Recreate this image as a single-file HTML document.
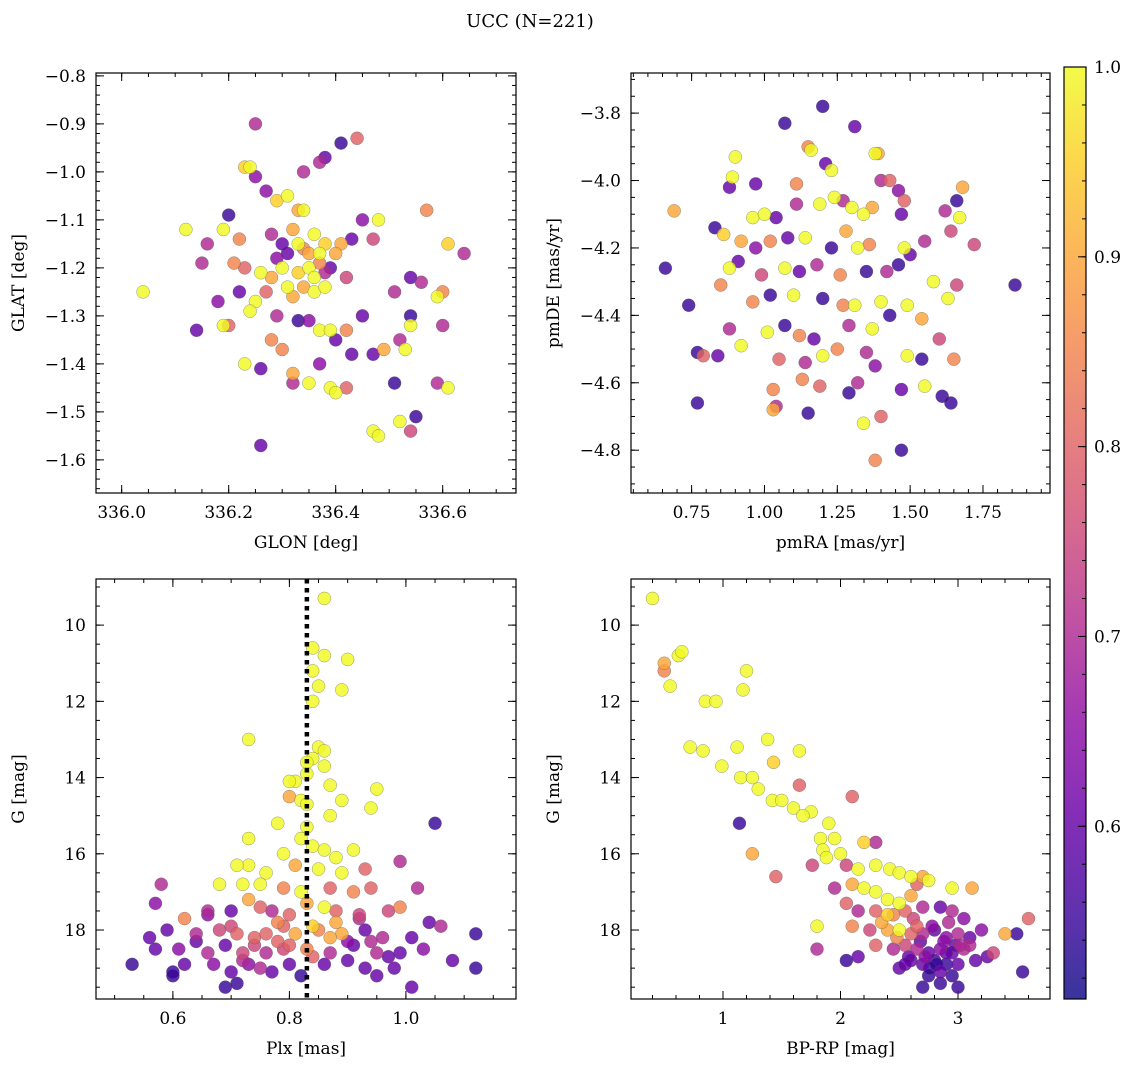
<!DOCTYPE html>
<html><head><meta charset="utf-8"><style>
html,body{margin:0;padding:0;background:#fff;}
svg{display:block;font-family:"DejaVu Serif","Liberation Serif",serif;}
</style></head><body>
<svg id="chart" width="1136" height="1067" viewBox="0 0 1136 1067" xmlns="http://www.w3.org/2000/svg">
<text x="530" y="27" font-size="18" text-anchor="middle">UCC (N=221)</text>
</svg>
<script>
// Panel 1: GLON / GLAT / probability
const p1Lon=[336.25,336.44,336.41,336.23,336.24,336.25,336.37,336.38,336.34,336.27,336.31,336.29,336.33,336.34,336.20,336.12,336.19,336.16,336.22,336.28,336.32,336.36,336.38,336.41,336.43,336.45,336.48,336.47,336.57,336.61,336.64,336.15,336.21,336.23,336.26,336.28,336.30,336.33,336.35,336.37,336.39,336.42,336.31,336.34,336.36,336.38,336.27,336.04,336.22,336.25,336.18,336.14,336.19,336.20,336.24,336.29,336.33,336.35,336.37,336.39,336.42,336.45,336.51,336.54,336.56,336.59,336.60,336.54,336.60,336.52,336.54,336.53,336.49,336.47,336.43,336.40,336.28,336.30,336.23,336.26,336.32,336.32,336.35,336.37,336.39,336.40,336.42,336.51,336.59,336.61,336.55,336.52,336.47,336.48,336.54,336.26,336.35,336.33,336.37,336.40,336.31,336.29,336.34,336.36,336.32,336.38,336.30];
const p1Lat=[-0.90,-0.93,-0.94,-0.99,-0.99,-1.01,-0.98,-0.97,-1.00,-1.04,-1.05,-1.06,-1.08,-1.08,-1.09,-1.12,-1.12,-1.15,-1.14,-1.13,-1.12,-1.13,-1.15,-1.15,-1.14,-1.10,-1.10,-1.14,-1.08,-1.15,-1.17,-1.19,-1.19,-1.20,-1.21,-1.22,-1.20,-1.21,-1.20,-1.19,-1.20,-1.22,-1.24,-1.24,-1.25,-1.24,-1.25,-1.25,-1.25,-1.27,-1.27,-1.33,-1.32,-1.32,-1.29,-1.30,-1.31,-1.31,-1.33,-1.33,-1.33,-1.30,-1.25,-1.22,-1.23,-1.26,-1.25,-1.30,-1.32,-1.35,-1.32,-1.37,-1.37,-1.38,-1.38,-1.35,-1.35,-1.37,-1.40,-1.41,-1.42,-1.44,-1.44,-1.40,-1.45,-1.46,-1.45,-1.44,-1.44,-1.45,-1.51,-1.52,-1.54,-1.55,-1.54,-1.57,-1.17,-1.15,-1.17,-1.17,-1.17,-1.18,-1.16,-1.22,-1.26,-1.21,-1.15];
const p1Prob=[0.7,0.8,0.55,0.95,1.0,0.65,0.7,0.6,0.7,0.65,1.0,0.95,0.9,1.0,0.55,1.0,1.0,0.7,0.85,0.7,0.9,1.0,0.95,0.9,0.6,0.65,1.0,0.75,0.85,0.95,0.7,0.7,0.85,0.8,1.0,0.9,1.0,0.95,1.0,0.85,0.6,0.75,1.0,0.9,1.0,1.0,0.8,1.0,0.6,1.0,0.65,0.6,1.0,0.8,1.0,0.7,0.55,0.65,1.0,1.0,0.85,0.6,0.7,0.6,0.7,1.0,0.85,0.55,0.7,0.7,1.0,1.0,0.9,0.6,0.6,0.6,0.85,0.85,1.0,0.6,0.9,0.7,1.0,0.65,1.0,1.0,0.8,0.55,0.7,1.0,0.55,1.0,1.0,1.0,0.75,0.6,0.9,1.0,1.0,0.9,0.6,0.65,0.85,1.0,0.9,0.7,0.6];
// Panel 2: pmRA / pmDE / probability
const p2Pmra=[1.20,1.07,1.31,1.15,1.16,1.38,1.39,0.90,1.21,0.97,0.89,0.88,1.11,1.23,1.40,1.43,1.46,1.48,1.68,1.66,0.69,0.96,1.00,1.04,1.11,1.19,1.24,1.27,1.30,1.34,1.37,1.47,1.62,1.67,0.83,0.86,0.92,0.97,1.02,1.08,1.14,1.23,1.28,1.32,1.36,1.48,1.55,1.64,1.72,0.66,0.88,0.91,0.99,1.07,1.12,1.18,1.26,1.35,1.42,1.46,1.50,1.58,1.66,0.85,0.74,0.96,1.02,1.10,1.20,1.27,1.31,1.40,1.49,1.54,1.63,0.88,0.92,1.01,1.07,1.12,1.17,1.29,1.37,1.43,1.60,0.77,0.79,0.84,1.05,1.14,1.20,1.25,1.35,1.38,1.49,1.54,1.65,1.61,1.64,1.03,1.13,1.19,1.32,1.47,1.55,0.77,1.03,1.04,1.15,1.29,1.34,1.40,1.47,1.38,1.86];
const p2Pmde=[-3.78,-3.83,-3.84,-3.90,-3.91,-3.92,-3.92,-3.93,-3.95,-4.01,-3.99,-4.02,-4.01,-3.97,-4.00,-4.00,-4.03,-4.06,-4.02,-4.06,-4.09,-4.11,-4.10,-4.11,-4.07,-4.07,-4.05,-4.06,-4.08,-4.10,-4.08,-4.10,-4.09,-4.11,-4.14,-4.16,-4.18,-4.20,-4.18,-4.17,-4.17,-4.20,-4.15,-4.20,-4.19,-4.20,-4.18,-4.15,-4.19,-4.26,-4.26,-4.24,-4.28,-4.26,-4.27,-4.25,-4.28,-4.27,-4.27,-4.25,-4.22,-4.30,-4.31,-4.31,-4.37,-4.36,-4.34,-4.34,-4.35,-4.37,-4.37,-4.36,-4.37,-4.41,-4.35,-4.44,-4.49,-4.45,-4.43,-4.46,-4.47,-4.43,-4.44,-4.40,-4.47,-4.51,-4.52,-4.52,-4.53,-4.54,-4.52,-4.50,-4.51,-4.55,-4.52,-4.53,-4.53,-4.64,-4.66,-4.62,-4.59,-4.61,-4.60,-4.62,-4.61,-4.66,-4.68,-4.67,-4.69,-4.63,-4.72,-4.70,-4.80,-4.83,-4.31];
const p2Prob=[0.55,0.55,0.6,0.85,1.0,1.0,0.9,1.0,0.6,0.6,1.0,0.6,0.85,1.0,0.7,0.8,0.65,0.8,0.9,0.55,0.9,1.0,1.0,0.6,0.7,1.0,1.0,0.7,1.0,1.0,0.9,0.6,0.7,1.0,0.55,0.95,0.9,0.65,0.85,0.6,1.0,0.55,0.9,1.0,0.85,1.0,0.7,0.75,0.75,0.55,1.0,0.6,0.75,1.0,0.6,0.7,0.85,0.55,0.7,0.55,0.6,1.0,0.75,0.85,0.55,0.85,0.55,1.0,0.55,0.85,1.0,1.0,1.0,0.9,1.0,0.7,1.0,1.0,0.55,0.85,0.6,0.7,1.0,0.55,0.75,0.55,0.8,0.6,0.8,0.7,1.0,0.85,0.7,0.65,1.0,0.55,0.85,0.55,0.55,0.85,0.85,0.8,0.7,0.6,1.0,0.55,0.9,0.7,0.55,0.55,1.0,0.8,0.55,0.85,0.55];
// Panel 3: Plx / G / probability
const p3Plx=[0.86,0.84,0.86,0.90,0.84,0.85,0.89,0.84,0.73,0.85,0.86,0.84,0.83,0.86,0.83,0.81,0.80,0.87,0.95,0.80,0.82,0.89,0.83,0.94,0.87,0.73,0.78,0.83,1.05,0.82,0.84,0.86,0.88,0.91,0.79,0.73,0.71,0.76,0.81,0.85,0.89,0.93,0.99,0.58,0.68,0.72,0.75,0.79,0.82,0.87,0.91,0.94,1.02,0.57,0.62,0.66,0.70,0.73,0.75,0.77,0.80,0.83,0.86,0.88,0.92,0.97,0.99,1.04,1.06,0.59,0.64,0.68,0.71,0.74,0.78,0.81,0.85,0.89,0.93,0.96,1.01,1.12,0.56,0.57,0.61,0.66,0.69,0.72,0.76,0.79,0.84,0.87,0.91,0.95,0.99,1.03,0.53,0.60,0.62,0.67,0.70,0.75,0.80,0.86,0.90,0.93,0.98,1.08,0.60,0.69,0.71,0.77,0.82,0.95,1.01,1.12,0.70,0.78,0.88,0.94,0.66,0.74,0.80,0.90,0.97,0.72,0.84,0.92,0.64,0.76,0.83,0.87,0.79,0.73];
const p3G=[9.3,10.6,10.8,10.9,11.2,11.6,11.7,12.0,13.0,13.2,13.3,13.5,13.6,13.7,13.9,14.1,14.1,14.2,14.3,14.5,14.6,14.6,14.7,14.8,15.0,15.6,15.2,15.3,15.2,15.6,15.8,15.9,16.1,15.9,16.0,16.3,16.3,16.5,16.3,16.4,16.5,16.4,16.2,16.8,16.8,16.8,16.8,16.9,17.0,16.9,17.0,16.9,16.9,17.3,17.7,17.5,17.5,17.2,17.4,17.5,17.6,17.3,17.4,17.5,17.7,17.5,17.4,17.8,17.9,18.0,18.1,18.0,18.1,18.2,18.3,18.1,18.0,18.1,18.0,18.2,18.2,18.1,18.2,18.5,18.5,18.6,18.4,18.6,18.6,18.5,18.7,18.6,18.4,18.6,18.6,18.5,18.9,19.1,18.9,18.9,19.1,19.0,18.9,18.9,18.8,19.0,19.0,18.8,19.2,19.5,19.4,19.1,19.2,19.2,19.5,19.0,17.9,17.8,17.8,18.3,17.6,18.4,18.4,18.3,18.7,18.8,17.9,17.6,18.3,18.1,18.5,18.2,17.9,18.9];
const p3Prob=[1,1,1,1,1,1,1,1,1,1,1,1,1,1,1,1,1,1,1,0.9,1,1,1,1,1,1,1,1,0.55,1,1,1,1,1,1,1,1,1,0.9,1,1,0.8,0.7,0.7,1,1,1,0.85,1,0.8,0.85,0.8,0.7,0.65,0.85,0.7,0.6,0.9,0.8,0.7,0.8,0.9,1,0.8,0.7,0.75,0.85,0.6,0.7,0.6,0.7,0.75,0.8,0.8,0.8,0.9,0.85,0.9,0.6,0.7,0.6,0.55,0.6,0.6,0.65,0.7,0.6,0.75,0.7,0.75,0.8,0.7,0.6,0.7,0.6,0.65,0.55,0.55,0.6,0.65,0.6,0.7,0.6,0.6,0.6,0.6,0.6,0.6,0.55,0.55,0.55,0.6,0.55,0.6,0.6,0.55,0.75,0.85,0.9,0.7,0.65,0.75,0.8,0.65,0.6,0.7,0.95,0.75,0.6,0.8,0.85,0.9,0.8,0.65];
// Panel 4: BP-RP / G / probability
const p4Col=[0.4,0.5,0.5,0.55,0.62,0.65,0.85,0.94,1.2,1.17,0.72,0.83,1.12,1.38,1.43,0.99,1.15,1.25,1.3,1.42,1.5,1.6,1.75,1.65,1.65,1.68,1.14,1.9,2.1,1.95,2.2,2.3,1.83,1.85,1.88,2.0,1.25,1.45,1.76,2.05,2.15,2.3,2.42,2.5,2.6,2.7,2.75,2.95,3.12,2.65,2.1,2.2,1.95,2.3,2.4,2.5,2.6,2.05,2.15,2.3,2.45,2.55,2.7,2.85,2.95,3.05,3.6,1.8,2.1,2.25,2.4,2.5,2.6,2.7,2.8,2.9,3.0,3.1,3.2,3.4,3.5,2.3,2.45,2.55,2.65,2.75,2.85,2.95,3.05,3.3,1.8,2.05,2.15,2.6,2.7,2.8,2.9,3.0,3.15,3.25,2.5,2.75,2.85,2.95,3.55,2.7,2.85,3.0,2.35,2.62,2.78,2.92,2.48,2.68,2.88,3.02,2.58,2.72,2.82,2.98,2.4,2.65,2.9,3.1,2.55,2.76];
const p4G=[9.3,11.0,11.2,11.6,10.8,10.7,12.0,12.0,11.2,11.7,13.2,13.3,13.2,13.0,13.6,13.7,14.0,14.0,14.3,14.6,14.6,14.8,14.9,13.3,14.2,15.0,15.2,15.2,14.5,15.6,15.7,15.7,15.6,15.9,16.1,16.0,16.0,16.6,16.3,16.3,16.4,16.3,16.4,16.5,16.6,16.6,16.7,16.9,16.9,16.8,16.8,16.9,16.9,17.0,17.2,17.3,17.1,17.3,17.5,17.5,17.6,17.5,17.4,17.4,17.5,17.7,17.7,17.9,17.9,18.0,18.0,18.0,18.1,18.1,18.0,18.2,18.1,18.2,18.0,18.1,18.1,18.4,18.5,18.4,18.5,18.6,18.5,18.6,18.5,18.6,18.5,18.8,18.7,18.8,18.9,18.8,18.9,18.9,18.8,18.7,19.0,19.2,19.1,19.2,19.1,19.5,19.4,19.5,17.8,17.7,17.9,17.8,18.2,18.3,18.3,18.4,18.7,18.7,18.9,18.4,17.6,17.9,18.6,18.4,18.9,19.0];
const p4Prob=[1,0.9,0.85,1,1,1,1,1,1,1,1,1,1,1,0.95,1,1,1,1,1,1,1,1,1,0.8,1,0.55,1,0.8,1,0.95,0.7,1,1,1,1,0.9,0.8,0.75,0.75,1,1,1,1,1,0.9,1,1,0.9,0.8,0.9,1,0.7,1,1,1,0.9,0.8,0.7,0.8,0.85,0.8,0.7,0.6,0.7,0.65,0.8,1,0.85,0.75,0.9,1,0.8,0.7,0.6,0.65,0.7,0.6,0.65,0.9,0.55,0.8,0.7,0.75,0.7,0.6,0.65,0.6,0.7,0.75,0.7,0.55,0.6,0.6,0.6,0.55,0.55,0.6,0.6,0.6,0.6,0.55,0.6,0.55,0.55,0.55,0.55,0.55,0.9,0.75,0.65,0.7,0.85,0.6,0.65,0.7,0.6,0.65,0.55,0.6,0.95,0.8,0.6,0.7,0.6,0.55];
const cbTicks=[0.6,0.7,0.8,0.9,1.0];
const plxMean=0.83;

const NS="http://www.w3.org/2000/svg";
const svg=document.getElementById('chart');
function mk(tag,attrs,parent){const e=document.createElementNS(NS,tag);for(const k in attrs)e.setAttribute(k,attrs[k]);(parent||svg).appendChild(e);return e;}
const VMIN=0.509,VMAX=1.0;
const stops=[[0,[13,8,135]],[0.1,[65,4,157]],[0.2,[106,0,168]],[0.3,[143,13,164]],[0.4,[177,42,144]],[0.5,[204,71,120]],[0.6,[225,100,98]],[0.7,[242,132,75]],[0.8,[252,166,54]],[0.9,[252,206,37]],[1,[240,249,33]]];
function plasma(t){t=Math.max(0,Math.min(1,t));for(let i=1;i<stops.length;i++){if(t<=stops[i][0]){const a=stops[i-1],b=stops[i];const f=(t-a[0])/(b[0]-a[0]);const c=a[1].map((v,j)=>Math.round(v+(b[1][j]-v)*f));return `rgb(${c[0]},${c[1]},${c[2]})`;}}return 'rgb(240,249,33)';}
function fmt(v,d){const s=Math.abs(v).toFixed(d);return (v<-1e-9?'\u2212':'')+s;}
const FS=17;

function panel(cfg){
  const {name,x0,y0,w,h,xd,yd,xmaj,xmin,ymaj,ymin,xdec,ydec,xl,yl,xs,ys,ps}=cfg;
  const g=mk('g',{});
  
  
  const X=v=>x0+(v-xd[0])/(xd[1]-xd[0])*w;
  const Y=v=>y0+(v-yd[0])/(yd[1]-yd[0])*h;
  const tg=mk('g',{stroke:'#000','stroke-width':1},g);
  function ticksX(step,len,labels){const lo=Math.min(xd[0],xd[1]),hi=Math.max(xd[0],xd[1]);for(let k=Math.ceil(lo/step-1e-6);k*step<=hi+1e-9;k++){const v=k*step;const px=X(v);mk('line',{x1:px,x2:px,y1:y0+h,y2:y0+h-len},tg);mk('line',{x1:px,x2:px,y1:y0,y2:y0+len},tg);if(labels){const t=mk('text',{x:px,y:y0+h+25,'font-size':FS,'text-anchor':'middle',stroke:'none'},g);t.textContent=fmt(v,xdec);}}}
  function ticksY(step,len,labels){const lo=Math.min(yd[0],yd[1]),hi=Math.max(yd[0],yd[1]);for(let k=Math.ceil(lo/step-1e-6);k*step<=hi+1e-9;k++){const v=k*step;const py=Y(v);mk('line',{x1:x0,x2:x0+len,y1:py,y2:py},tg);mk('line',{x1:x0+w,x2:x0+w-len,y1:py,y2:py},tg);if(labels){const t=mk('text',{x:x0-10,y:py+6,'font-size':FS,'text-anchor':'end',stroke:'none'},g);t.textContent=fmt(v,ydec);}}}
  ticksX(xmin,4,false);ticksX(xmaj,8,true);ticksY(ymin,4,false);ticksY(ymaj,8,true);
  const pg=mk('g',{},g);
  
  
  const order=ps.map((p,i)=>i).sort((a,b)=>ps[a]-ps[b]);
  for(const i of order){const c=mk('circle',{cx:X(xs[i]),cy:Y(ys[i]),r:6.5,fill:plasma((ps[i]-VMIN)/(VMAX-VMIN)),'fill-opacity':0.82,stroke:'#555','stroke-opacity':0.6,'stroke-width':0.5},pg);
    
    }
  if(cfg.vline!==undefined){const l=mk('line',{x1:X(cfg.vline),x2:X(cfg.vline),y1:y0,y2:y0+h,stroke:'#000','stroke-width':4.5,'stroke-dasharray':'4.5,4.5'},g);}
  const fr=mk('rect',{x:x0,y:y0,width:w,height:h,fill:'none',stroke:'#000','stroke-width':1.2},g);
  
  const xt=mk('text',{x:x0+w/2,y:y0+h+55,'font-size':FS,'text-anchor':'middle'},g);xt.textContent=xl;
  
  const yt=mk('text',{x:0,y:0,'font-size':FS,'text-anchor':'middle',transform:`translate(${x0-72},${y0+h/2}) rotate(-90)`},g);yt.textContent=yl;
  
}
panel({name:'glon-glat-panel',x0:96,y0:73,w:420,h:420,xd:[335.952,336.737],yd:[-0.794,-1.669],xmaj:0.2,xmin:0.05,ymaj:0.1,ymin:0.02,xdec:1,ydec:1,xl:'GLON [deg]',yl:'GLAT [deg]',xs:p1Lon,ys:p1Lat,ps:p1Prob});
panel({name:'pm-panel',x0:631,y0:73,w:419,h:420,xd:[0.542,1.980],yd:[-3.681,-4.927],xmaj:0.25,xmin:0.05,ymaj:0.2,ymin:0.05,xdec:2,ydec:1,xl:'pmRA [mas/yr]',yl:'pmDE [mas/yr]',xs:p2Pmra,ys:p2Pmde,ps:p2Prob});
panel({name:'plx-g-panel',x0:96,y0:579,w:420,h:420,xd:[0.468,1.189],yd:[8.79,19.81],xmaj:0.2,xmin:0.05,ymaj:2,ymin:0.5,xdec:1,ydec:0,xl:'Plx [mas]',yl:'G [mag]',xs:p3Plx,ys:p3G,ps:p3Prob,vline:plxMean});
panel({name:'cmd-panel',x0:631,y0:579,w:419,h:420,xd:[0.217,3.783],yd:[8.79,19.81],xmaj:1,xmin:0.2,ymaj:2,ymin:0.5,xdec:0,ydec:0,xl:'BP-RP [mag]',yl:'G [mag]',xs:p4Col,ys:p4G,ps:p4Prob});

// colorbar
const cb=mk('g',{});


const defs=mk('defs',{},cb);
const lg=mk('linearGradient',{id:'cbg',x1:0,y1:1,x2:0,y2:0},defs);
for(const s of stops){mk('stop',{offset:s[0],'stop-color':`rgb(${s[1].join(',')})`},lg);}
const CY0=67,CY1=999,CX=1064,CW=22;
mk('rect',{x:CX,y:CY0,width:CW,height:CY1-CY0,fill:'url(#cbg)','fill-opacity':0.82},cb);
mk('rect',{x:CX,y:CY0,width:CW,height:CY1-CY0,fill:'none',stroke:'#000','stroke-width':1.2},cb);
const CBY=v=>CY1-(v-VMIN)/(VMAX-VMIN)*(CY1-CY0);
for(let k=26;k<=50;k++){const v=k*0.02;mk('line',{x1:CX+CW,x2:CX+CW-4,y1:CBY(v),y2:CBY(v),stroke:'#000'},cb);}
for(const v of cbTicks){const py=CBY(v);mk('line',{x1:CX+CW,x2:CX+CW-8,y1:py,y2:py,stroke:'#000'},cb);
  const t=mk('text',{x:CX+CW+8,y:py+6,'font-size':FS},cb);t.textContent=v.toFixed(1);
  
  }
</script>
</body></html>
